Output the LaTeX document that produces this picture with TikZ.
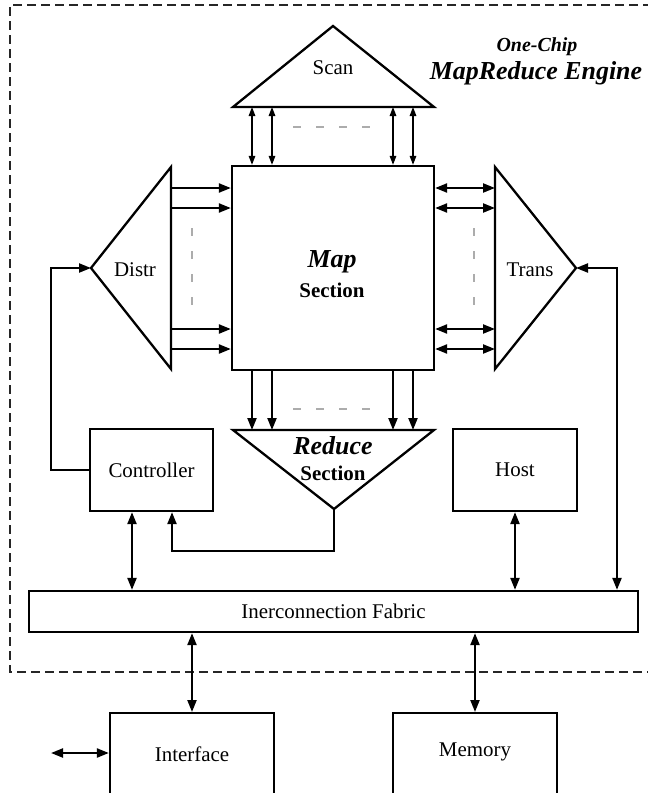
\documentclass[tikz,border=0pt]{standalone}
\usepackage{fontspec}
\setmainfont{Liberation Serif}
\usetikzlibrary{arrows.meta}
\newcommand\lbl{\fontsize{21}{24}\selectfont}
\newcommand\bigbi{\fontsize{26}{30}\selectfont\bfseries\itshape}
\begin{document}
\begin{tikzpicture}[x=1bp,y=-1bp,
  box/.style={draw, line width=2.3bp, inner sep=0pt, font=\lbl},
  txt/.style={inner sep=0pt, font=\lbl},
  tri/.style={draw, line width=2.3bp, line join=miter},
  arr/.style={line width=2.2bp, -{Triangle[length=12bp,width=9bp]}},
  dbl/.style={line width=2.2bp, {Triangle[length=12bp,width=9bp]}-{Triangle[length=12bp,width=9bp]}},
  thindbl/.style={line width=1.5bp, {Triangle[length=9bp,width=6.5bp]}-{Triangle[length=9bp,width=6.5bp]}},
  gap/.style={draw=gray!65, line width=1.3bp, dash pattern=on 8bp off 15bp},
  border/.style={draw=black!85, line width=1.1bp, dash pattern=on 9bp off 5bp}]
\useasboundingbox (0,0) rectangle (648,793);

% chip outline (open to the right)
\draw[border] (652,5) -- (10,5) -- (10,672) -- (652,672);

% title
\node[txt, font=\fontsize{20}{24}\selectfont\bfseries\itshape] (title1) at (537,47) {One-Chip};
\node[txt, font=\bigbi] (title2) at (536,73) {MapReduce Engine};

% Map section
\node[box, minimum width=202bp, minimum height=204bp] (map) at (333,268) {};
\node[txt, font=\bigbi] (maplbl) at (332,262) {Map};
\node[txt, font=\lbl\bfseries] (mapsec) at (332,290) {Section};

% Scan triangle
\draw[tri] (233,107) coordinate (scanL) -- (333,26) coordinate (scanA) -- (434,107) coordinate (scanR) -- cycle;
\node[txt] (scan) at (333,68) {Scan};
\coordinate (s1) at (252,107); \coordinate (s2) at (272,107);
\coordinate (s3) at (393,107); \coordinate (s4) at (413,107);
\foreach \p in {s1,s2,s3,s4} \draw[thindbl] (\p) -- (\p |- map.north);
\draw[gap] (293,127) -- (374,127);

% Distr triangle
\draw[tri] (171,167) -- (91,268) coordinate (distrA) -- (171,369) -- cycle;
\node[txt] (distr) at (135,270) {Distr};
\coordinate (d1) at (171,188); \coordinate (d2) at (171,208);
\coordinate (d3) at (171,329); \coordinate (d4) at (171,349);
\foreach \p in {d1,d2,d3,d4} \draw[arr] (\p) -- (\p -| map.west);
\draw[gap] (192,228) -- (192,310);

% Trans triangle
\draw[tri] (495,167) -- (576,268) coordinate (transA) -- (495,369) -- cycle;
\node[txt] (trans) at (530,270) {Trans};
\coordinate (t1) at (495,188); \coordinate (t2) at (495,208);
\coordinate (t3) at (495,329); \coordinate (t4) at (495,349);
\foreach \p in {t1,t2,t3,t4} \draw[dbl] (\p -| map.east) -- (\p);
\draw[gap] (474,228) -- (474,310);

% Reduce triangle
\draw[tri] (233,430) -- (434,430) -- (334,509) coordinate (redA) -- cycle;
\node[txt, font=\bigbi] (redlbl) at (333,446) {Reduce};
\node[txt, font=\lbl\bfseries] (redsec) at (333,473) {Section};
\coordinate (r1) at (252,430); \coordinate (r2) at (272,430);
\coordinate (r3) at (393,430); \coordinate (r4) at (413,430);
\foreach \p in {r1,r2,r3,r4} \draw[arr] (\p |- map.south) -- (\p);
\draw[gap] (293,409) -- (374,409);

% Controller, Host, Fabric
\node[box, minimum width=123bp, minimum height=82bp] (ctrl) at (151.5,470) {Controller};
\node[box, minimum width=124bp, minimum height=82bp] (host) at (515,470) {Host};
\node[box, minimum width=609bp, minimum height=41bp] (fab) at (333.5,611.5) {Inerconnection Fabric};

% Interface and Memory (continue below the page)
\node[box, minimum width=164bp, minimum height=100bp, anchor=north] (iface) at (192,712) {};
\node[txt] (ifacelbl) at (192,754) {Interface};
\node[box, minimum width=164bp, minimum height=100bp, anchor=north] (mem) at (475,712) {};
\node[txt] (memlbl) at (475,752) {Memory};

% control and data paths
\draw[arr] (ctrl.west) -- ++(-38,0) |- (distrA);
\draw[arr] (redA) -- ++(0,42) -| ([xshift=20.5bp]ctrl.south);
\draw[dbl] (transA) -| ([xshift=283.5bp]fab.north);
\draw[dbl] ([xshift=-19.5bp]ctrl.south) -- ([xshift=-19.5bp]ctrl.south |- fab.north);
\draw[dbl] (host.south) -- (host.south |- fab.north);
\draw[dbl] (fab.south -| iface.north) -- (iface.north);
\draw[dbl] (fab.south -| mem.north) -- (mem.north);
\coordinate (ext) at (51,753);
\draw[dbl] (ext) -- (ext -| iface.west);
\end{tikzpicture}
\end{document}
